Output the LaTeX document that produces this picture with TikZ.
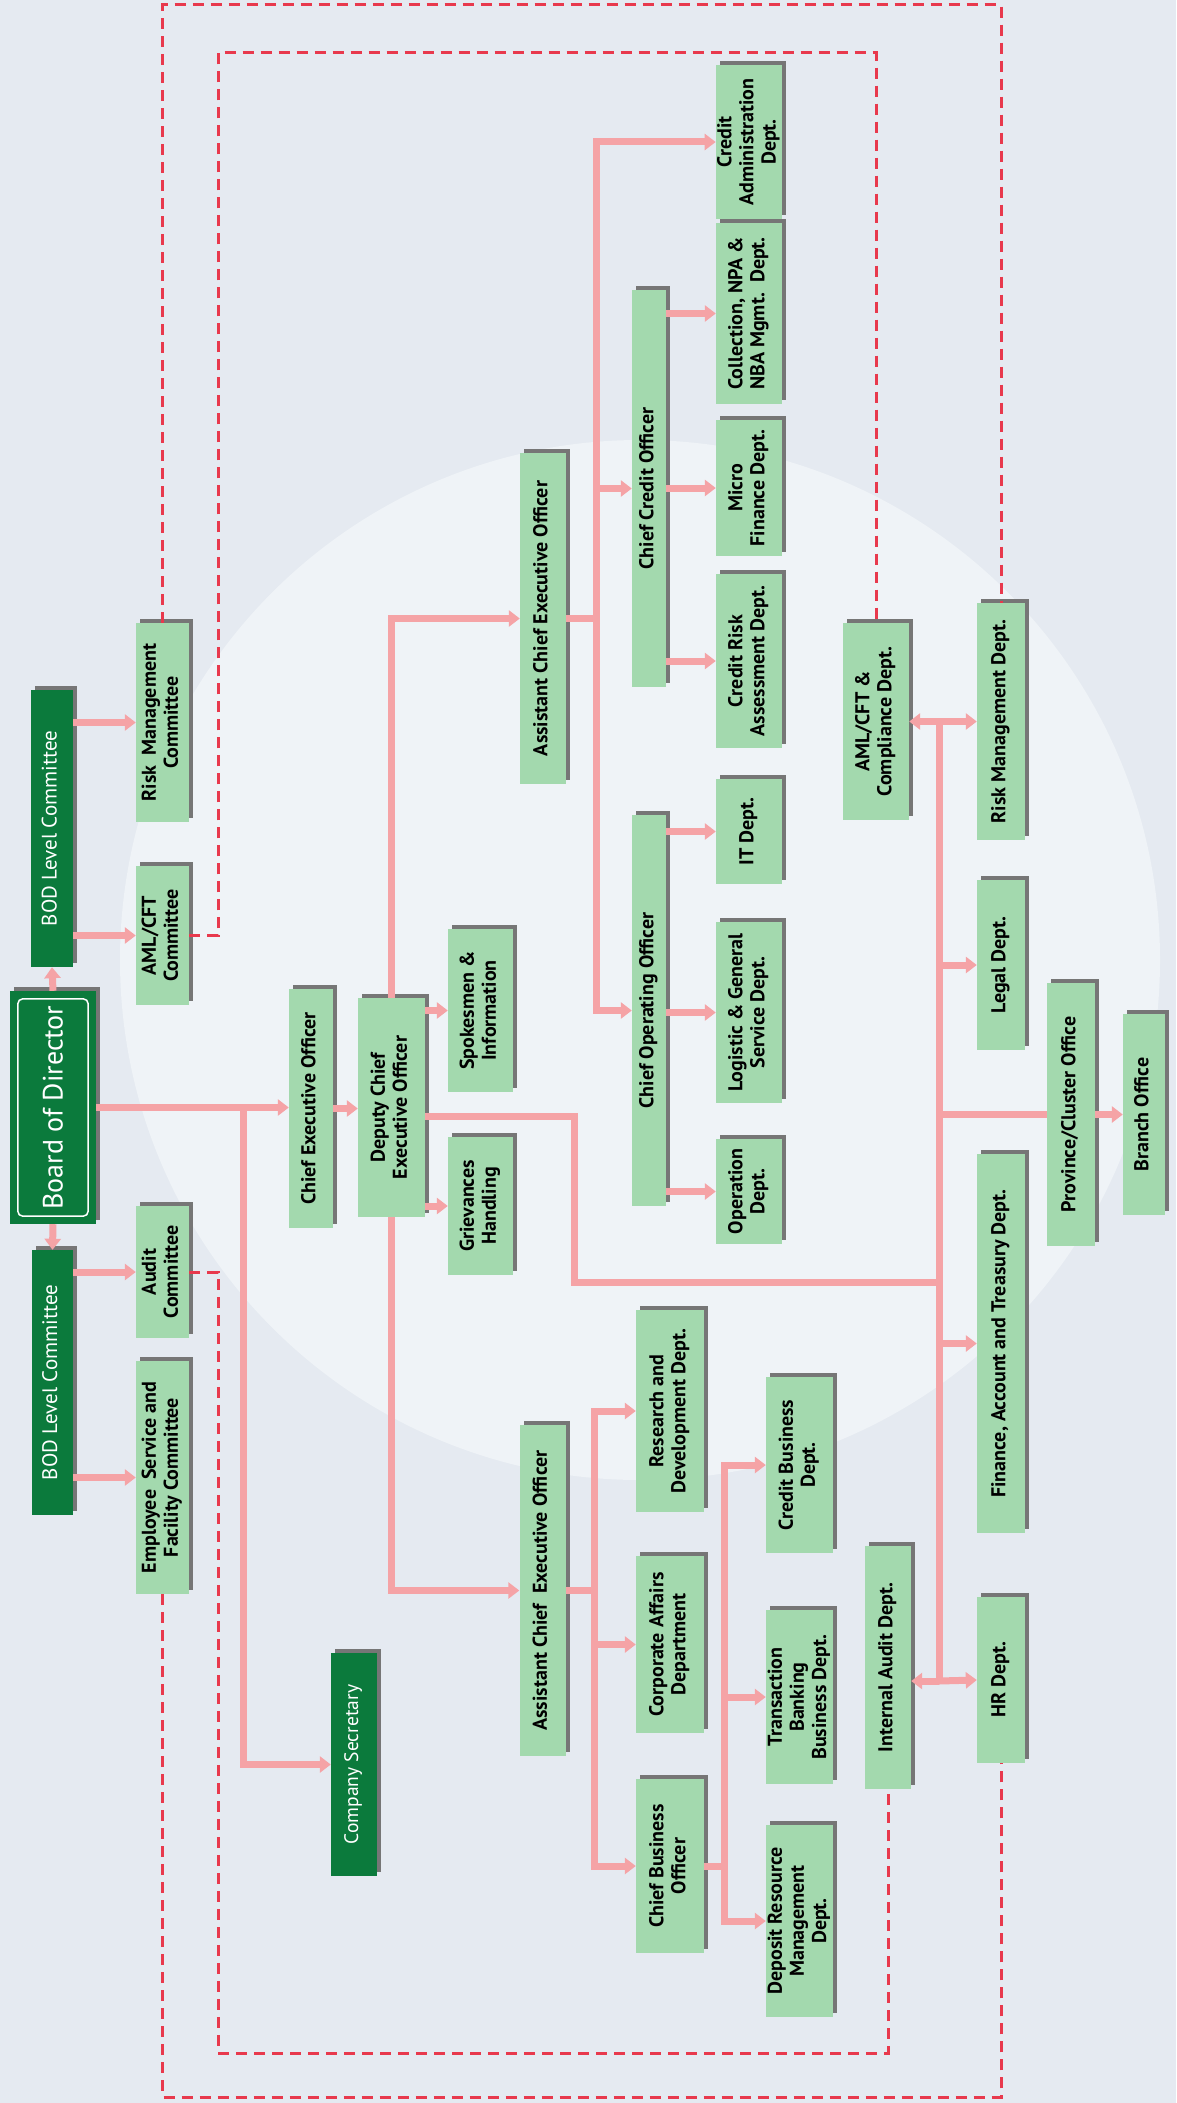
\documentclass[tikz,border=0pt]{standalone}
\usepackage{fontspec}
\setmainfont{PT Sans}
\usepackage{graphicx}
\usetikzlibrary{arrows.meta, shadows}

\definecolor{bggray}{HTML}{E5EAF1}
\definecolor{bglight}{HTML}{EFF3F7}
\definecolor{boxgreen}{HTML}{A3D9AE}
\definecolor{darkgreen}{HTML}{0B7A3C}
\definecolor{shadowgray}{HTML}{767676}
\definecolor{linkpink}{HTML}{F5A3A6}
\definecolor{dashred}{HTML}{E8394D}

\newcommand{\vtext}[1]{\rotatebox{90}{\begin{tabular}{@{}c@{}}#1\end{tabular}}}
\renewcommand{\arraystretch}{0.92}

\begin{document}
\begin{tikzpicture}[
    x=1pt, y=-1pt,
    box/.style={fill=boxgreen, inner sep=0pt, font=\fontsize{20}{24}\selectfont\bfseries,
        drop shadow={shadow xshift=4pt, shadow yshift=4pt, fill=shadowgray, opacity=1}},
    dark/.style={box, fill=darkgreen, text=white, font=\fontsize{21}{25}\selectfont},
    sz/.style 2 args={minimum width=#1pt, minimum height=#2pt},
    link/.style={draw=linkpink, line width=7pt},
    arrow/.style={link, -{Triangle[width=16pt, length=11pt]}},
    dashlink/.style={draw=dashred, line width=3pt, dash pattern=on 11pt off 7pt}
]

\useasboundingbox (0,0) rectangle (1176,2103);
\fill[bggray] (0,0) rectangle (1176,2103);
\fill[bglight] (640,960) circle (520pt);

% Board and committees
\node[dark, sz={86}{233}, font=\fontsize{28}{32}\selectfont] (board) at (53,1107.5) {\rotatebox{90}{Board of Director}};
\draw[white, line width=1.5pt, rounded corners=5pt] ([shift={(8pt,8pt)}]board.south west) rectangle ([shift={(-8pt,-8pt)}]board.north east);
\node[dark, sz={42}{277}] (bodtop) at (52,828.5) {\vtext{BOD Level Committee}};
\node[dark, sz={41}{265}] (bodbot) at (52.5,1382.5) {\vtext{BOD Level Committee}};
\node[box, sz={53}{199}] (riskc) at (162.5,722.5) {\vtext{Risk\ \ Management\\Committee}};
\node[box, sz={53}{139}] (amlc) at (162.5,935.5) {\vtext{AML/CFT\\Committee}};
\node[box, sz={53}{132}] (auditc) at (162.5,1272) {\vtext{Audit\\Committee}};
\node[box, sz={53}{233}] (empc) at (162.5,1477.5) {\vtext{Employee\ \ Service and\\Facility Committee}};

% Executive
\node[box, sz={44}{239}] (ceo) at (311,1108.5) {\vtext{Chief Executive Officer}};
\node[dark, sz={46}{223}, font=\fontsize{19.5}{23}\selectfont] (secy) at (354,1764.5) {\vtext{Company Secretary}};
\node[box, sz={67}{219}] (dceo) at (391.5,1107.5) {\vtext{Deputy Chief\\Executive Officer}};
\node[box, sz={65}{163}] (spokes) at (480.5,1010.5) {\vtext{Spokesmen \&\\Information}};
\node[box, sz={65}{138}] (griev) at (480.5,1206) {\vtext{Grievances\\Handling}};
\node[box, sz={46}{331}] (aceoa) at (543,618.5) {\vtext{Assistant Chief Executive Officer}};
\node[box, sz={46}{331}] (aceob) at (542.5,1590.5) {\vtext{Assistant Chief\ \ Executive Officer}};

% Credit and operations
\node[box, sz={34}{397}] (cco) at (649,488.5) {\vtext{Chief Credit Officer}};
\node[box, sz={34}{391}] (coo) at (649,1010.5) {\vtext{Chief Operating Officer}};
\node[box, sz={66}{154}] (credadm) at (749,142) {\vtext{Credit\\Administration\\Dept.}};
\node[box, sz={66}{181}] (collect) at (749,313.5) {\vtext{Collection, NPA \&\\NBA Mgmt.\ \ Dept.}};
\node[box, sz={66}{136}] (micro) at (749,488) {\vtext{Micro\\Finance Dept.}};
\node[box, sz={66}{174}] (crisk) at (749,661) {\vtext{Credit Risk\\Assessment Dept.}};
\node[box, sz={66}{105}] (itd) at (749,831.5) {\vtext{IT Dept.}};
\node[box, sz={66}{181}] (logis) at (749,1012.5) {\vtext{Logistic \& General\\Service Dept.}};
\node[box, sz={66}{105}] (oper) at (749,1191.5) {\vtext{Operation\\Dept.}};

% Business
\node[box, sz={68}{202}] (rnd) at (670,1411) {\vtext{Research and\\Development Dept.}};
\node[box, sz={68}{177}] (corp) at (670,1644.5) {\vtext{Corporate Affairs\\Department}};
\node[box, sz={68}{174}] (cbo) at (670,1866) {\vtext{Chief Business\\Officer}};
\node[box, sz={67}{176}] (credbus) at (799.5,1465) {\vtext{Credit Business\\Dept.}};
\node[box, sz={67}{174}] (transb) at (799.5,1697) {\vtext{Transaction\\Banking\\Business Dept.}};
\node[box, sz={67}{192}] (deposit) at (799.5,1921) {\vtext{Deposit Resource\\Management\\Dept.}};

% Departments
\node[box, sz={66}{197}] (amlcd) at (876,721.5) {\vtext{AML/CFT \&\\Compliance Dept.}};
\node[box, sz={48}{237}] (riskd) at (1001,721.5) {\vtext{Risk Management Dept.}};
\node[box, sz={48}{170}] (legal) at (1001,965) {\vtext{Legal Dept.}};
\node[box, sz={48}{263}] (prov) at (1071,1114.5) {\vtext{Province/Cluster Office}};
\node[box, sz={42}{201}] (branch) at (1144,1114.5) {\vtext{Branch Office}};
\node[box, sz={48}{379}] (fin) at (1001,1343.5) {\vtext{Finance, Account and Treasury Dept.}};
\node[box, sz={48}{166}] (hr) at (1001,1680) {\vtext{HR Dept.}};
\node[box, sz={46}{243}] (iaudit) at (888,1667.5) {\vtext{Internal Audit Dept.}};

% Junctions
\coordinate (jsec) at (243,1108);
\coordinate (ubus) at (596,618.5);
\coordinate (lbus) at (594,1590.5);
\coordinate (cbus) at (724,1866);
\coordinate (bend) at (574,1282);
\coordinate (bustop) at (939,721.5);
\coordinate (busbot) at (939,1681);
\coordinate (otop) at (0,5);
\coordinate (obot) at (0,2097);
\coordinate (itop) at (218,53);
\coordinate (ibot) at (218,2053);

% Dashed reporting lines
\draw[dashlink] (riskc.north) -- (riskc.north |- otop) -| (riskd.north);
\draw[dashlink] (empc.south) -- (empc.south |- obot) -| (hr.south);
\draw[dashlink] (amlc.east) -| (itop) -| (amlcd.north);
\draw[dashlink] (auditc.east) -| (ibot) -| (iaudit.south);

% Edges
\draw[arrow] (board.north) -- (bodtop.south);
\draw[arrow] (board.south) -- (bodbot.north);
\draw[arrow] (bodtop.east |- riskc.west) -- (riskc.west);
\draw[arrow] (bodtop.east |- amlc.west) -- (amlc.west);
\draw[arrow] (bodbot.east |- auditc.west) -- (auditc.west);
\draw[arrow] (bodbot.east |- empc.west) -- (empc.west);
\draw[arrow] (board.east) -- (board.east -| ceo.west);
\draw[arrow] (jsec) |- (secy.west);
\draw[arrow] (ceo.east) -- (ceo.east -| dceo.west);
\draw[arrow] (dceo.east |- spokes.west) -- (spokes.west);
\draw[arrow] (dceo.east |- griev.west) -- (griev.west);
\draw[arrow] (dceo.north) |- (aceoa.west);
\draw[arrow] (dceo.south) |- (aceob.west);

\draw[link] (aceoa.east) -- (ubus);
\draw[arrow] (ubus) |- (credadm.west);
\draw[arrow] (ubus) |- (coo.west);
\draw[arrow] (ubus |- cco.west) -- (cco.west);
\draw[arrow] (cco.east |- collect.west) -- (collect.west);
\draw[arrow] (cco.east |- micro.west) -- (micro.west);
\draw[arrow] (cco.east |- crisk.west) -- (crisk.west);
\draw[arrow] (coo.east |- itd.west) -- (itd.west);
\draw[arrow] (coo.east |- logis.west) -- (logis.west);
\draw[arrow] (coo.east |- oper.west) -- (oper.west);

\draw[link] (aceob.east) -- (lbus);
\draw[arrow] (lbus) |- (rnd.west);
\draw[arrow] (lbus) |- (cbo.west);
\draw[arrow] (lbus |- corp.west) -- (corp.west);
\draw[link] (cbo.east) -- (cbus);
\draw[arrow] (cbus) |- (credbus.west);
\draw[arrow] (cbus) |- (deposit.west);
\draw[arrow] (cbus |- transb.west) -- (transb.west);

\draw[link] ([yshift=-9pt]dceo.east) -| (bend) -- (bend -| bustop);
\draw[link] (bustop) -- (busbot);
\draw[arrow] (bustop) -- (amlcd.east);
\draw[arrow] (bustop) -- (riskd.west);
\draw[arrow] (bustop |- legal.west) -- (legal.west);
\draw[link] (bustop |- prov.west) -- (prov.west);
\draw[arrow] (prov.east) -- (branch.west);
\draw[arrow] (bustop |- fin.west) -- (fin.west);
\draw[arrow] (busbot) -- (hr.west);
\draw[arrow] (busbot) -- (busbot -| iaudit.east);

\end{tikzpicture}
\end{document}
